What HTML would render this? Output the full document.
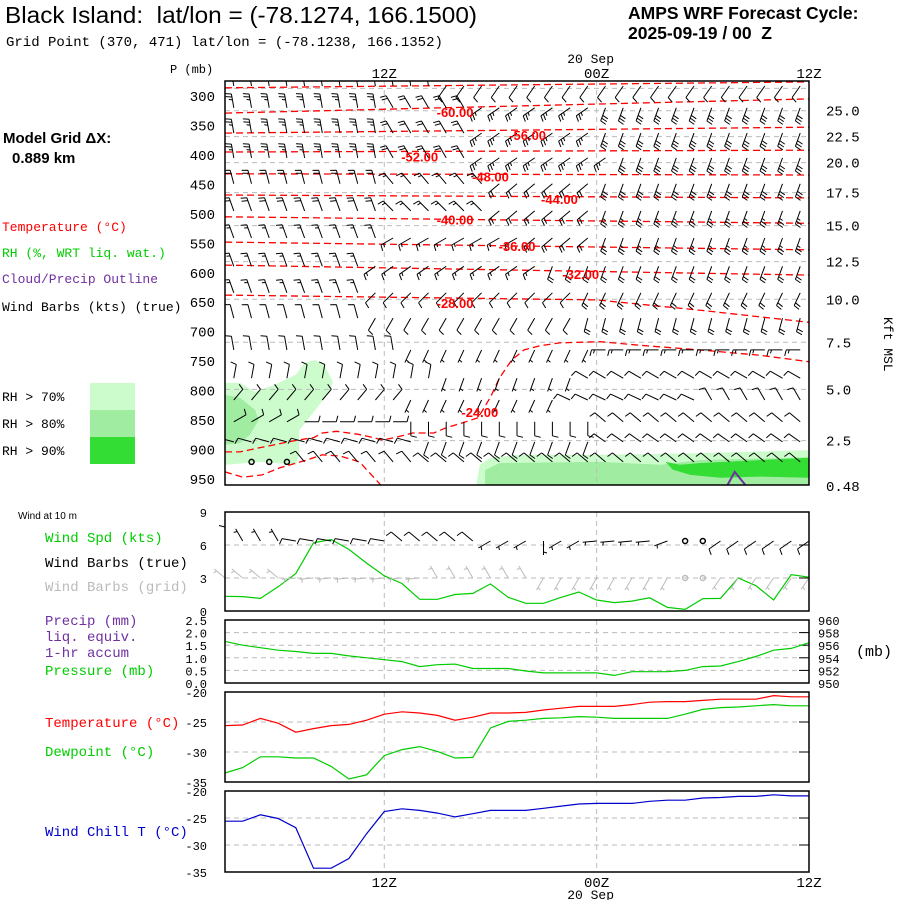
<!DOCTYPE html>
<html><head><meta charset="utf-8"><style>
html,body{margin:0;padding:0;background:#fff;}
svg{display:block;font-family:"Liberation Sans",sans-serif;}
.m{font-family:"Liberation Mono",monospace;}
text{white-space:pre;}
</style></head><body>
<svg id="c" width="900" height="900" viewBox="0 0 900 900" xmlns="http://www.w3.org/2000/svg" xml:space="preserve">
<rect width="900" height="900" fill="#fff"/>
<text x="5" y="23" font-size="23" textLength="472" lengthAdjust="spacingAndGlyphs">Black Island:  lat/lon = (-78.1274, 166.1500)</text>
<text x="6" y="46" font-size="14" class="m">Grid Point (370, 471) lat/lon = (-78.1238, 166.1352)</text>
<text x="628" y="19" font-size="17.5" font-weight="bold">AMPS WRF Forecast Cycle:</text>
<text x="628" y="39" font-size="17.5" font-weight="bold">2025-09-19 / 00  Z</text>
<text x="3" y="143" font-size="15" font-weight="bold">Model Grid ΔX:</text>
<text x="12" y="163" font-size="15" font-weight="bold">0.889 km</text>
<g class="m" font-size="13">
<text x="2" y="231" fill="#f00">Temperature (°C)</text>
<text x="2" y="257" fill="#0c0">RH (%, WRT liq. wat.)</text>
<text x="2" y="283" fill="#7030a0">Cloud/Precip Outline</text>
<text x="2" y="311" fill="#000">Wind Barbs (kts) (true)</text>
</g>
<g>
<rect x="90" y="383" width="45" height="27" fill="#ccfccc"/>
<rect x="90" y="410" width="45" height="27" fill="#a0eca0"/>
<rect x="90" y="437" width="45" height="27" fill="#33dd33"/>
<text x="2" y="401" font-size="13" class="m">RH &gt; 70%</text>
<text x="2" y="428" font-size="13" class="m">RH &gt; 80%</text>
<text x="2" y="455" font-size="13" class="m">RH &gt; 90%</text>
</g>
<text x="170" y="73" font-size="12" class="m">P (mb)</text>
<text x="896" y="305" font-size="13" class="m" transform="rotate(90 884 305)">Kft MSL</text>
<g class="m" font-size="13">
<text x="18" y="519" font-size="10" font-family="Liberation Sans">Wind at 10 m</text>
<text x="45" y="542" fill="#0c0" font-size="14">Wind Spd (kts)</text>
<text x="45" y="567" fill="#000" font-size="14">Wind Barbs (true)</text>
<text x="45" y="591" fill="#bbb" font-size="14">Wind Barbs (grid)</text>
<text x="45" y="625" fill="#7030a0" font-size="14">Precip (mm)</text>
<text x="45" y="641" fill="#7030a0" font-size="14">liq. equiv.</text>
<text x="45" y="657" fill="#7030a0" font-size="14">1-hr accum</text>
<text x="45" y="675" fill="#0c0" font-size="14">Pressure (mb)</text>
<text x="856" y="656" fill="#000" font-size="15">(mb)</text>
<text x="45" y="727" fill="#f00" font-size="14">Temperature (°C)</text>
<text x="45" y="756" fill="#0c0" font-size="14">Dewpoint (°C)</text>
<text x="45" y="836" fill="#00c" font-size="14">Wind Chill T (°C)</text>
</g>
<g id="plot"></g>
</svg>
<script>
// ---------- data ----------
const timeLabels = ["12Z","00Z","12Z"];
const timeLabelHours = [9,21,33];
const pressureTicks = [300,350,400,450,500,550,600,650,700,750,800,850,900,950];
const heightLabels = ["25.0","22.5","20.0","17.5","15.0","12.5","10.0","7.5","5.0","2.5","0.48"];
const heightLabelPressures = [325,369,413,464,520,581,645,718,798,885,962];
const gridLinePressures = [287,325,369,413,464,520,581,645,718,798,885];
const windSpd = [1.34,1.31,1.15,2.2,3.4,6.2,6.5,5.6,4.35,3.2,2.5,1.06,1.06,1.5,1.6,2.46,1.25,0.7,0.7,1.25,1.73,1.0,0.76,0.9,1.2,0.33,0.15,1.12,1.15,3.0,2.3,1.0,3.3,3.07];
const pressure = [956.6,956.0,955.6,955.2,955.0,954.7,954.7,954.3,954.0,953.7,953.4,952.6,952.9,953.0,952.3,952.3,952.3,951.9,951.6,951.6,951.6,951.6,951.2,951.8,951.8,951.8,952.0,952.6,952.7,953.4,954.2,955.2,955.5,956.4];
const temperature = [-25.6,-25.5,-24.4,-25.2,-26.7,-26.1,-25.6,-25.4,-24.7,-23.7,-23.3,-23.5,-23.9,-24.7,-24.2,-23.5,-23.5,-23.4,-23.0,-22.7,-22.4,-22.4,-22.4,-22.1,-21.7,-21.6,-21.6,-21.4,-21.2,-21.2,-21.2,-20.6,-20.8,-20.8];
const dewpoint = [-33.5,-32.6,-30.8,-30.8,-31.0,-31.0,-32.4,-34.5,-33.8,-30.6,-29.6,-29.1,-29.9,-31.0,-30.9,-26.0,-24.9,-24.7,-24.4,-24.3,-24.1,-24.2,-24.4,-24.4,-24.4,-24.4,-23.7,-22.9,-22.6,-22.5,-22.3,-22.1,-22.3,-22.3];
const windChill = [-25.6,-25.6,-24.4,-25.1,-26.8,-34.3,-34.3,-32.5,-27.9,-23.8,-23.3,-23.6,-24.1,-24.8,-24.2,-23.6,-23.6,-23.6,-23.2,-22.8,-22.4,-22.3,-22.3,-22.3,-21.9,-21.7,-21.7,-21.3,-21.2,-21.0,-21.0,-20.7,-20.9,-20.9];
// barb rows: pressure + run-length segments [count, dirFrom, speed]; dir -1 = calm
const barbLevels = [283,320,363,405,449,495,541,589,634,677,731,779,816,853,887,921];
const barbSegs = [
 [[12,350,10],[21,215,10]],
 [[9,350,25],[5,330,20],[7,235,25],[12,200,30]],
 [[9,350,25],[5,330,20],[7,235,25],[12,200,30]],
 [[9,350,25],[5,330,20],[8,235,25],[11,200,30]],
 [[9,345,20],[6,320,15],[6,230,20],[12,200,30]],
 [[9,340,20],[6,315,15],[6,230,20],[12,200,25]],
 [[9,340,15],[8,240,15],[4,230,20],[12,200,25]],
 [[8,340,15],[10,235,15],[15,200,20]],
 [[8,340,15],[12,225,10],[13,205,20]],
 [[8,345,10],[12,210,10],[13,195,20]],
 [[10,350,10],[11,205,5],[12,270,15]],
 [[12,10,10],[8,200,5],[13,300,10]],
 [[10,40,10],[9,205,5],[8,295,10],[6,330,10]],
 [[4,60,10],[6,90,10],[11,180,10],[12,310,10]],
 [[11,285,10],[10,200,10],[12,305,10]],
 [[1,0,0],[3,-1,0],[7,320,10],[22,310,10]]
];
const sfcBarbs = [[1,0,8],[3,330,5],[6,280,10],[5,310,8],[3,240,5],[1,180,5],[2,240,5],[4,265,5],[1,250,5],[2,-1,0],[6,235,8]];
const gridBarbs = [[4,310,5],[8,265,5],[6,330,5],[8,210,5],[2,-1,0],[6,215,5]];
// temperature contours: [hour, pressure] pairs
const contourLevels = ["-64","-60","-56","-52","-48","-44","-40","-36","-32","-28","-24","-20"];
const contours = [
 [[0,286],[33,276]],
 [[0,329],[33,305]],
 [[0,363],[33,353]],
 [[0,395],[33,392]],
 [[0,432],[33,434]],
 [[0,468],[33,473]],
 [[0,505],[33,516]],
 [[0,548],[33,561]],
 [[0,587],[33,604]],
 [[0,638],[21,646],[27,664],[33,684]],
 [[0,904],[0.85,904],[2.1,896],[4.1,884],[5,880],[5.5,872],[6.3,869],[7.5,874],[8.4,880],[8.9,884],[9.7,879],[10.6,872],[11.8,872],[12.5,863],[13.4,855],[14.3,846],[15,811],[15.5,779],[16.2,748],[16.9,731],[17.8,724],[18.9,719],[21.2,717],[23.4,723],[26.8,731],[30.2,740],[33,751]],
 [[0,938],[1,947],[2.1,943],[3.1,931],[4.6,918],[5.5,909],[6.5,911],[7.6,921],[8.8,960]]
];
const contourLabels = ["-60.00","-56.00","-52.00","-48.00","-44.00","-40.00","-36.00","-32.00","-28.00","-24.00"];
const contourLabelPos = [[13,327],[17.1,366],[11,403],[15,437],[18.9,475],[13,510],[16.5,555],[20.1,602],[13,651],[14.4,836]];
const rhLight = [[[0,787],[0.85,787],[1.7,802],[2.8,790],[4,773],[4.5,753],[5.1,748],[5.6,756],[6.1,785],[5.9,802],[5.1,833],[4.2,867],[4.2,909],[4,926],[2,921],[0,926]],
 [[14.2,960],[14.4,926],[15,914],[16.7,909],[21.2,909],[26.8,906],[33,901],[33,960]]];
const rhMed = [[[0,807],[0.85,812],[1.7,833],[1.9,850],[1.4,875],[0.85,889],[0,892]],
 [[14.7,960],[14.7,935],[15.5,923],[21.2,921],[24.6,926],[26.8,918],[33,913],[33,960]]];
const rhDark = [[[24.9,921],[25.7,926],[26.8,923],[30.2,918],[33,914],[33,948],[30.2,946],[28,948],[26.3,943],[25.3,934]]];
const cloudOutline = [[28.4,960],[28.8,938],[29.4,960]];

// ---------- axes ----------
const X0=225, X1=809, NH=33;
const xOf = h => X0 + h*(X1-X0)/NH;
const pY = p => 96 + (p-300)*0.5892;
const MT=81, MB=485;
const NS="http://www.w3.org/2000/svg";
const plot=document.getElementById('plot');
function el(tag, attrs, parent){const e=document.createElementNS(NS,tag);for(const k in attrs)e.setAttribute(k,attrs[k]);(parent||plot).appendChild(e);return e;}
function txt(x,y,s,attrs,parent){const t=el('text',Object.assign({x:x,y:y},attrs),parent);t.textContent=s;return t;}
const pts = arr => arr.map(q=>xOf(q[0]).toFixed(1)+','+pY(q[1]).toFixed(1)).join(' ');

const defs=el('defs',{});
const cp=el('clipPath',{id:'mclip'},defs);
el('rect',{x:X0,y:MT,width:X1-X0,height:MB-MT},cp);
const main=el('g',{'clip-path':'url(#mclip)'});



rhLight.forEach(a=>{const e=el('polygon',{points:pts(a),fill:'#ccfccc'},main);

});
rhMed.forEach(a=>{const e=el('polygon',{points:pts(a),fill:'#a0eca0'},main);

});
rhDark.forEach(a=>{const e=el('polygon',{points:pts(a),fill:'#33dd33'},main);

});

gridLinePressures.forEach(p=>{const e=el('line',{x1:X0,x2:X1,y1:pY(p),y2:pY(p),stroke:'#bbb','stroke-dasharray':'5,4'},main);

});
[9,21].forEach(h=>{const e=el('line',{x1:xOf(h),x2:xOf(h),y1:MT,y2:MB,stroke:'#bbb','stroke-dasharray':'5,4'},main);

});

const co=el('polyline',{points:pts(cloudOutline),fill:'none',stroke:'#7030a0','stroke-width':2},main);



contours.forEach((c,i)=>{const e=el('polyline',{points:pts(c),fill:'none',stroke:'#f00','stroke-width':1.3,'stroke-dasharray':'7,4'},main);

});

function barb(g,x,y,dir,spd,col,L){
  if(dir<0){const c=el('circle',{cx:x,cy:y,r:2.5,fill:'none',stroke:col,'stroke-width':1.5},g);
  
  return;}
  if(spd<=0) return;
  const r=dir*Math.PI/180, ux=Math.sin(r), uy=-Math.cos(r);
  const ex=x+ux*L, ey=y+uy*L;
  let d='M'+x.toFixed(1)+' '+y.toFixed(1)+'L'+ex.toFixed(1)+' '+ey.toFixed(1);
  const px=uy, py=-ux;
  let s=Math.round(spd/5)*5, off=0;
  while(s>=10){const bx=ex-ux*off, by=ey-uy*off;d+='M'+bx.toFixed(1)+' '+by.toFixed(1)+'l'+(px*6+ux*1.5).toFixed(1)+' '+(py*6+uy*1.5).toFixed(1);s-=10;off+=3;}
  if(s>=5){const bx=ex-ux*(off||3), by=ey-uy*(off||3);d+='M'+bx.toFixed(1)+' '+by.toFixed(1)+'l'+(px*3.5+ux*1).toFixed(1)+' '+(py*3.5+uy*1).toFixed(1);}
  const p=el('path',{d:d,stroke:col,'stroke-width':1,fill:'none'},g);
  
  
}
const bg=el('g',{},main);


barbLevels.forEach((p,ri)=>{let col=0;barbSegs[ri].forEach(s=>{for(let k=0;k<s[0];k++){barb(bg,xOf(col+0.5),pY(p),s[1],s[2],'#000',14);col++;}});});

contourLabels.forEach((s,i)=>{const t=txt(xOf(contourLabelPos[i][0]),pY(contourLabelPos[i][1])+5,s,{'font-size':13,'font-weight':'bold',fill:'#f00','text-anchor':'middle'},main);

});

const mf=el('rect',{x:X0,y:MT,width:X1-X0,height:MB-MT,fill:'none',stroke:'#000','stroke-width':1.5});


pressureTicks.forEach(p=>{const t=txt(215,pY(p)+5,String(p),{'font-size':14,'text-anchor':'end',class:'m'});

});
heightLabels.forEach((s,i)=>{const t=txt(826,pY(heightLabelPressures[i])+5,s,{'font-size':14,class:'m'});

});
timeLabels.forEach((s,i)=>{const t=txt(xOf(timeLabelHours[i]),78,s,{'font-size':14,'text-anchor':'middle',class:'m'});


const b=txt(xOf(timeLabelHours[i]),887,s,{'font-size':14,'text-anchor':'middle',class:'m'});

});
const d1=txt(xOf(21)-6,63,"20 Sep",{'font-size':13,'text-anchor':'middle',class:'m'});


const d2=txt(xOf(21)-6,899,"20 Sep",{'font-size':13,'text-anchor':'middle',class:'m'});



// ---------- lower panels ----------
function panel(name,top,bot,vmin,vmax,grid,labels,labelVals){
  const g=el('g',{});
  
  
  const y=v=>bot-(v-vmin)/(vmax-vmin)*(bot-top);
  grid.forEach(v=>{const l=el('line',{x1:X0,x2:X1,y1:y(v),y2:y(v),stroke:'#bbb','stroke-dasharray':'5,4'},g);
  
  
  el('line',{x1:X1-10,x2:X1,y1:y(v),y2:y(v),stroke:'#000'},g);});
  [9,21].forEach(h=>{const l=el('line',{x1:xOf(h),x2:xOf(h),y1:top,y2:bot,stroke:'#bbb','stroke-dasharray':'5,4'},g);
  
  });
  labels.forEach((s,i)=>{const t=txt(207,y(labelVals[i])+5,s,{'font-size':12,'text-anchor':'end',class:'m'},g);
  
  });
  return {g,y,top,bot};
}
function line(P,vals,col,name,yf){
  const d=vals.map((v,i)=>xOf(i).toFixed(1)+','+(yf||P.y)(v).toFixed(1)).join(' ');
  const l=el('polyline',{points:d,fill:'none',stroke:col,'stroke-width':1.2},P.g);
  
  
}
function frame(P){const f=el('rect',{x:X0,y:P.top,width:X1-X0,height:P.bot-P.top,fill:'none',stroke:'#000','stroke-width':1.5},P.g);

}

const P1=panel('wind-10m-panel',512,611,0,9,[3,6],["9","6","3","0"],[9,6,3,0]);
line(P1,windSpd,'#0c0','wind-speed-line');
let c=0;sfcBarbs.forEach(s=>{for(let k=0;k<s[0];k++){barb(P1.g,xOf(c),P1.y(6)-4,s[1],s[2],'#000',14);c++;}});
c=0;gridBarbs.forEach(s=>{for(let k=0;k<s[0];k++){barb(P1.g,xOf(c),P1.y(3),s[1],s[2],'#bbb',14);c++;}});
frame(P1);

const P2=panel('precip-pressure-panel',620,683,0,2.5,[0.5,1,1.5,2],["2.5","2.0","1.5","1.0","0.5","0.0"],[2.5,2,1.5,1,0.5,0]);
const pyR=v=>683-(v-950)/10*63;
line(P2,pressure,'#0c0','pressure-line',pyR);
["960","958","956","954","952","950"].forEach((s,i)=>{const t=txt(818,pyR(960-2*i)+5,s,{'font-size':12,class:'m'},P2.g);

});
frame(P2);

const P3=panel('temperature-panel',692,782,-35,-20,[-25,-30],["-20","-25","-30","-35"],[-20,-25,-30,-35]);
line(P3,temperature,'#f00','temperature-line');
line(P3,dewpoint,'#0c0','dewpoint-line');
frame(P3);

const P4=panel('wind-chill-panel',791,872,-35,-20,[-25,-30],["-20","-25","-30","-35"],[-20,-25,-30,-35]);
line(P4,windChill,'#00c','wind-chill-line');
frame(P4);
</script>
</body></html>
